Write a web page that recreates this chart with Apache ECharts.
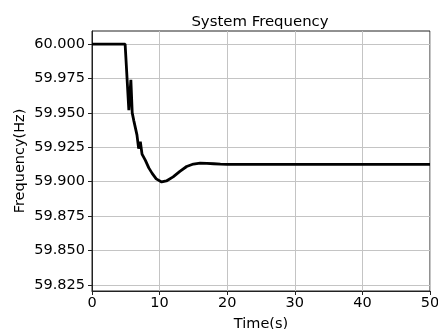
<!DOCTYPE html>
<html>
<head>
<meta charset="utf-8">
<script src="https://cdn.jsdelivr.net/npm/echarts@6/dist/echarts.min.js"></script>
<style>
  html, body { margin: 0; padding: 0; background: #fff; }
  #chart { width: 438px; height: 329px; }
</style>
</head>
<body>
<div id="chart"></div>
<script>
// time (s) and frequency (Hz)
const times = [0, 4.9, 5.45, 5.75, 5.95, 6.2, 6.65, 6.9, 7.15, 7.4, 7.9, 8.4, 8.9, 9.5, 10.3,
  11, 12, 13, 14, 15, 16, 17, 18, 19, 20, 50]
const freq = [60.0, 60.0, 59.952, 59.974, 59.95, 59.944, 59.934, 59.924, 59.929, 59.92, 59.9155, 59.91, 59.906, 59.902, 59.8998,
  59.9005, 59.9035, 59.9075, 59.911, 59.9128, 59.9135, 59.9133, 59.913, 59.9127, 59.9125, 59.9125]
const yTicks = [59.825, 59.85, 59.875, 59.9, 59.925, 59.95, 59.975, 60.0]

const font = 'DejaVu Sans'
const chart = echarts.init(document.getElementById('chart'))
chart.setOption({
  animation: false,
  title: {
    text: 'System Frequency',
    left: 255,
    top: 10,
    textAlign: 'center',
    textStyle: { fontFamily: font, fontSize: 14.9, fontWeight: 'normal', color: '#000' },
  },
  grid: {
    left: 92, right: 8, top: 31, bottom: 38,
    outerBoundsMode: 'none',
    containLabel: false,
    show: true, borderColor: '#222', borderWidth: 1,
  },
  xAxis: {
    type: 'value',
    min: 0, max: 50, interval: 10,
    name: 'Time(s)', nameLocation: 'middle', nameGap: 26,
    nameTextStyle: { fontFamily: font, fontSize: 14.5, color: '#000' },
    axisLine: { lineStyle: { color: '#222' } },
    axisTick: { length: 4, lineStyle: { color: '#222' } },
    axisLabel: { fontFamily: font, fontSize: 14.5, color: '#000', margin: 5 },
    splitLine: { lineStyle: { color: '#c4c4c4' } },
  },
  yAxis: {
    type: 'value',
    min: 59.8205, max: 60.0095,
    name: 'Frequency(Hz)', nameLocation: 'middle', nameGap: 64,
    nameMoveOverlap: false,
    nameTextStyle: { fontFamily: font, fontSize: 14.5, color: '#000' },
    axisLine: { show: true, lineStyle: { color: '#222' } },
    axisTick: { show: true, length: 4, customValues: yTicks, lineStyle: { color: '#222' } },
    axisLabel: {
      fontFamily: font, fontSize: 14.5, color: '#000', margin: 7,
      customValues: yTicks,
      formatter: v => v.toFixed(3),
    },
    splitLine: { lineStyle: { color: '#c4c4c4' } },
  },
  series: [{
    type: 'line',
    data: times.map((t, i) => [t, freq[i]]),
    showSymbol: false,
    lineStyle: { color: '#000', width: 2.8 },
  }],
})
</script>
</body>
</html>
